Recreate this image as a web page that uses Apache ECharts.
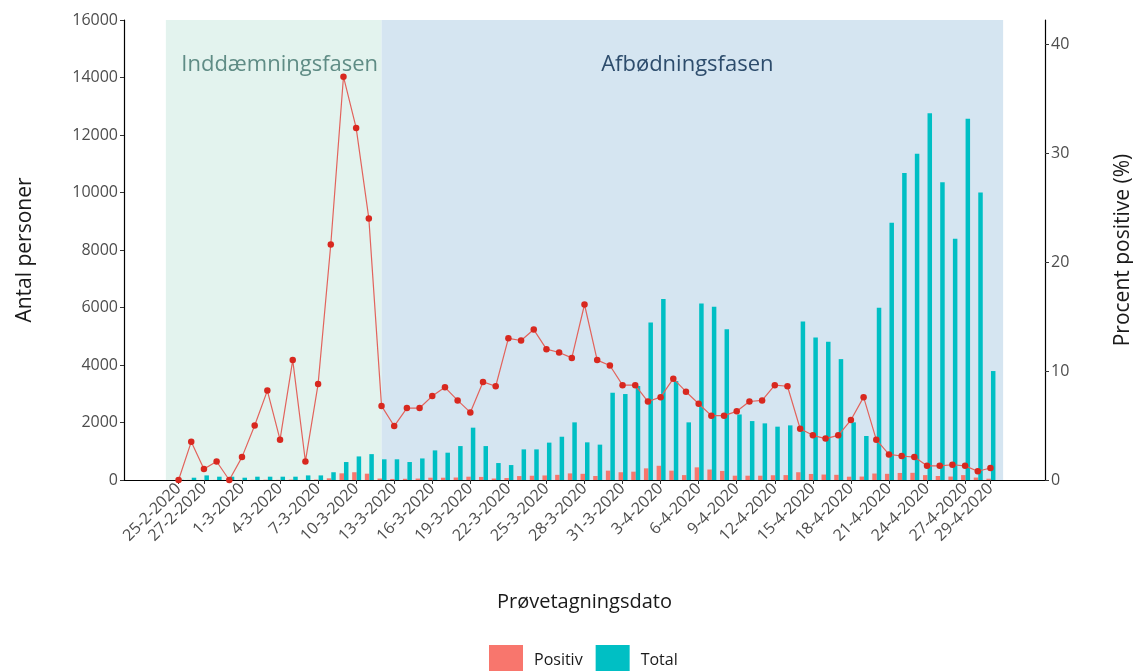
<!DOCTYPE html>
<html>
<head>
<meta charset="utf-8">
<script src="https://cdn.jsdelivr.net/npm/echarts@6/dist/echarts.min.js"></script>
<style>
  html, body { margin: 0; padding: 0; background: #fff; }
  #chart { width: 1133px; height: 671px; }
</style>
</head>
<body>
<div id="chart"></div>
<script>
  var dates = [
    '25-2-2020', '26-2-2020', '27-2-2020', '28-2-2020', '29-2-2020',
    '1-3-2020', '2-3-2020', '3-3-2020', '4-3-2020', '5-3-2020', '6-3-2020', '7-3-2020', '8-3-2020',
    '9-3-2020', '10-3-2020', '11-3-2020', '12-3-2020', '13-3-2020', '14-3-2020', '15-3-2020', '16-3-2020',
    '17-3-2020', '18-3-2020', '19-3-2020', '20-3-2020', '21-3-2020', '22-3-2020', '23-3-2020', '24-3-2020',
    '25-3-2020', '26-3-2020', '27-3-2020', '28-3-2020', '29-3-2020', '30-3-2020', '31-3-2020',
    '1-4-2020', '2-4-2020', '3-4-2020', '4-4-2020', '5-4-2020', '6-4-2020', '7-4-2020', '8-4-2020',
    '9-4-2020', '10-4-2020', '11-4-2020', '12-4-2020', '13-4-2020', '14-4-2020', '15-4-2020', '16-4-2020',
    '17-4-2020', '18-4-2020', '19-4-2020', '20-4-2020', '21-4-2020', '22-4-2020', '23-4-2020', '24-4-2020',
    '25-4-2020', '26-4-2020', '27-4-2020', '28-4-2020', '29-4-2020'
  ];

  var total = [
    10, 80, 160, 115, 115, 80, 115, 115, 115, 115, 160, 160, 270, 625, 820, 900,
    720, 720, 625, 750, 1030, 950, 1180, 1820, 1180, 590, 520, 1065, 1065, 1300, 1505, 2005, 1310,
    1230, 3035, 2990, 3270, 5480, 6300, 3440, 2005, 6140, 6025, 5240, 2280, 2050, 1970, 1855, 1900,
    5515, 4960, 4810, 4205, 2005, 1530, 5990, 8945, 10675, 11345, 12760, 10360, 8390, 12565, 10000, 3790
  ];

  var positive = [
    0, 3, 2, 2, 0, 2, 6, 10, 4, 13, 3, 14, 58, 232, 270, 220,
    50, 36, 42, 50, 80, 80, 87, 115, 107, 51, 68, 137, 148, 158, 180, 230, 215,
    140, 325, 270, 290, 405, 495, 325, 170, 440, 365, 315, 150, 150, 150, 165, 170,
    270, 210, 190, 180, 115, 120, 225, 215, 245, 250, 170, 140, 120, 170, 85, 45
  ];

  var percent = [
    0, 3.5, 1.0, 1.7, 0, 2.1, 5.0, 8.2, 3.7, 11.0, 1.7, 8.8, 21.6, 37.0, 32.3, 24.0,
    6.8, 4.95, 6.6, 6.6, 7.7, 8.5, 7.3, 6.2, 9.0, 8.6, 13.0, 12.8, 13.8, 12.0, 11.7, 11.2, 16.1,
    11.0, 10.5, 8.7, 8.7, 7.2, 7.6, 9.3, 8.1, 7.0, 5.9, 5.9, 6.3, 7.2, 7.3, 8.7, 8.6,
    4.7, 4.1, 3.8, 4.1, 5.5, 7.6, 3.7, 2.35, 2.2, 2.1, 1.3, 1.3, 1.4, 1.3, 0.8, 1.1
  ];

  var tickDates = [
    '25-2-2020', '27-2-2020', '1-3-2020', '4-3-2020', '7-3-2020', '10-3-2020', '13-3-2020',
    '16-3-2020', '19-3-2020', '22-3-2020', '25-3-2020', '28-3-2020', '31-3-2020', '3-4-2020',
    '6-4-2020', '9-4-2020', '12-4-2020', '15-4-2020', '18-4-2020', '21-4-2020', '24-4-2020',
    '27-4-2020', '29-4-2020'
  ];

  var phaseNames = ['Inddæmningsfasen', 'Afbødningsfasen'];
  var phaseStart = ['24-2-2020', '12-3-2020'];
  var phaseEnd = ['12-3-2020', '30-4-2020'];

  // day number counted from the first date
  function dayIndex (s) {
    var p = s.split('-');
    var t = Date.UTC(+p[2], +p[1] - 1, +p[0]);
    var p0 = dates[0].split('-');
    var t0 = Date.UTC(+p0[2], +p0[1] - 1, +p0[0]);
    return Math.round((t - t0) / 86400000);
  }

  var labelByIndex = {};
  var tickIdx = tickDates.map(function (d) {
    var i = dayIndex(d);
    labelByIndex[i] = d;
    return i;
  });

  var posData = positive.map(function (v, i) { return [i, v]; });
  var totData = total.map(function (v, i) { return [i, v]; });
  var pctData = percent.map(function (v, i) { return [i, v]; });

  var phaseColors = ['#e3f3ee', '#d5e5f1'];
  var phaseText = ['#5f8c85', '#2d4c6c'];
  var phaseOffset = [[6, 0], [-5, 0]];
  var areas = phaseNames.map(function (n, k) {
    return [{
      name: n,
      xAxis: dayIndex(phaseStart[k]),
      itemStyle: { color: phaseColors[k] },
      label: { color: phaseText[k], offset: phaseOffset[k] }
    }, {
      xAxis: dayIndex(phaseEnd[k])
    }];
  });

  var font = 'Open Sans';
  var axisTextColor = '#4d4d4d';

  var chart = echarts.init(document.getElementById('chart'));
  chart.setOption({
    animation: false,
    backgroundColor: '#ffffff',
    textStyle: { fontFamily: font },
    grid: { left: 124, right: 88, top: 20, bottom: 191, containLabel: false, outerBoundsMode: 'none' },
    legend: {
      data: ['Positiv', 'Total'],
      left: 484,
      top: 640,
      icon: 'rect',
      itemWidth: 34,
      itemHeight: 31,
      itemGap: 13,
      textStyle: { fontSize: 16, color: '#1a1a1a', fontFamily: font, padding: [0, 0, 0, 6] }
    },
    xAxis: {
      type: 'value',
      min: -4.3,
      max: 68.3,
      name: 'Prøvetagningsdato',
      nameLocation: 'middle',
      nameGap: 112,
      nameTextStyle: { fontSize: 20, color: '#1a1a1a', fontFamily: font },
      splitLine: { show: false },
      axisLine: { show: true, onZero: false, lineStyle: { color: '#000', width: 1.2 } },
      axisTick: { show: true, length: 4, lineStyle: { color: '#333' }, customValues: tickIdx },
      axisLabel: {
        customValues: tickIdx,
        rotate: 45,
        margin: 6,
        fontSize: 16,
        color: axisTextColor,
        fontFamily: font,
        formatter: function (v) { return labelByIndex[Math.round(v)] || ''; }
      }
    },
    yAxis: [{
      type: 'value',
      min: 0,
      max: 16000,
      interval: 2000,
      name: 'Antal personer',
      nameLocation: 'middle',
      nameRotate: 90,
      nameGap: 88,
      nameTextStyle: { fontSize: 21, color: '#1a1a1a', fontFamily: font },
      splitLine: { show: false },
      axisLine: { show: true, onZero: false, lineStyle: { color: '#000', width: 1.2 } },
      axisTick: { show: true, length: 4, lineStyle: { color: '#333' } },
      axisLabel: {
        fontSize: 16, color: axisTextColor, margin: 6, fontFamily: font,
        formatter: function (v) { return String(v); }
      }
    }, {
      type: 'value',
      min: 0,
      max: 42.2,
      position: 'right',
      name: 'Procent positive (%)',
      nameLocation: 'middle',
      nameRotate: 90,
      nameGap: 68,
      nameTextStyle: { fontSize: 21, color: '#1a1a1a', fontFamily: font },
      splitLine: { show: false },
      axisLine: { show: true, onZero: false, lineStyle: { color: '#000', width: 1.2 } },
      axisTick: { show: true, length: 4, lineStyle: { color: '#333' }, customValues: [0, 10, 20, 30, 40] },
      axisLabel: { fontSize: 16, color: axisTextColor, margin: 6, fontFamily: font, customValues: [0, 10, 20, 30, 40] }
    }],
    series: [
      {
        name: 'phases',
        type: 'bar',
        data: [],
        z: 0,
        silent: true,
        markArea: {
          silent: true,
          label: {
            show: true,
            position: 'insideTop',
            distance: 34,
            fontSize: 22,
            fontFamily: font
          },
          data: areas
        }
      },
      {
        name: 'Positiv',
        type: 'bar',
        z: 2,
        barWidth: 4.5,
        barGap: '0%',
        itemStyle: { color: '#F8766D' },
        data: posData
      },
      {
        name: 'Total',
        type: 'bar',
        z: 2,
        barWidth: 4.5,
        barGap: '0%',
        itemStyle: { color: '#00BFC4' },
        data: totData
      },
      {
        name: 'Procent',
        type: 'line',
        yAxisIndex: 1,
        z: 3,
        symbol: 'circle',
        symbolSize: 6.5,
        itemStyle: { color: '#d8281f' },
        lineStyle: { color: '#e2635c', width: 1.2 },
        data: pctData
      }
    ]
  });
</script>
</body>
</html>
